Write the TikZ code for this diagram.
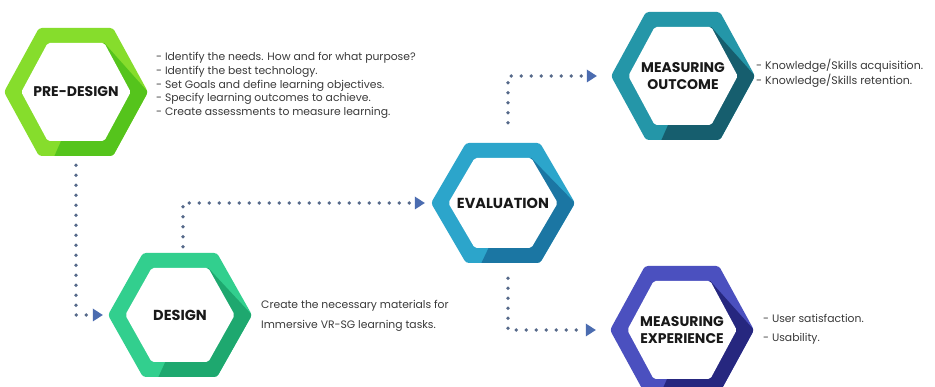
\documentclass[tikz,border=0pt]{standalone}
\usepackage{fontspec}
\setmainfont{Poppins}
\usetikzlibrary{arrows.meta,calc}
\definecolor{preL}{HTML}{86DD2C}
\definecolor{preD}{HTML}{55C41C}
\definecolor{desL}{HTML}{32CF8E}
\definecolor{desD}{HTML}{1EA86F}
\definecolor{evaL}{HTML}{2CA5CB}
\definecolor{evaD}{HTML}{1B76A3}
\definecolor{outL}{HTML}{2496A8}
\definecolor{outD}{HTML}{165E6E}
\definecolor{expL}{HTML}{4B50BF}
\definecolor{expD}{HTML}{26277F}
\definecolor{dotc}{HTML}{56698A}
\definecolor{arrc}{HTML}{4B6CB0}
\definecolor{txtc}{HTML}{3A3A3A}
\newcommand\hexring[5]{%
 \pgfmathsetmacro\hxw{72}%
 \pgfmathsetmacro\hxa{37}%
 \pgfmathsetmacro\hxh{#3}%
 \pgfmathsetmacro\hxwi{\hxw-17.3}%
 \pgfmathsetmacro\hxai{\hxa-8.7}%
 \pgfmathsetmacro\hxhi{\hxh-15}%
 \begin{scope}
  \clip[rounded corners=3pt] (#1+\hxw,#2) -- (#1+\hxa,#2+\hxh) -- (#1-\hxa,#2+\hxh) -- (#1-\hxw,#2) -- (#1-\hxa,#2-\hxh) -- (#1+\hxa,#2-\hxh) -- cycle;
  \fill[#4] (#1-100,#2-100) rectangle (#1+100,#2+100);
  \fill[#5] (#1+\hxai,#2-\hxhi) -- ($(#1+\hxai,#2-\hxhi)!1.5!(#1+\hxw,#2)$) -- (#1+\hxw+25,#2+\hxh+25) -- ($(#1+\hxai,#2-\hxhi)!1.2!(#1-0.3*\hxw,#2+\hxh)$) -- cycle;
 \end{scope}
 \fill[white,rounded corners=2pt] (#1+\hxwi,#2) -- (#1+\hxai,#2+\hxhi) -- (#1-\hxai,#2+\hxhi) -- (#1-\hxwi,#2) -- (#1-\hxai,#2-\hxhi) -- (#1+\hxai,#2-\hxhi) -- cycle;
}
\begin{document}
\begin{tikzpicture}[x=1pt,y=-1pt,
  lbl/.style={font=\bfseries\fontsize{14.5}{17}\selectfont,text=black!90,align=center,inner sep=0pt,minimum width=144pt},
  desc/.style={font=\fontsize{10.8}{13.8}\selectfont,text=txtc,align=left,inner sep=0pt,anchor=west},
  conn/.style={draw=dotc,line width=3.8pt,line cap=round,dash pattern=on 0pt off 10pt,
    -{Triangle[length=10pt,width=13pt,line width=0pt,color=arrc,fill=arrc]}}]
\useasboundingbox (0,0) rectangle (935,387);
\clip (0,0) rectangle (935,387);
\fill[white] (0,0) rectangle (935,387);
% hexagons
\hexring{76}{92}{64}{preL}{preD}
\hexring{180}{315}{62}{desL}{desD}
\hexring{503}{203}{60}{evaL}{evaD}
\hexring{683}{76}{64}{outL}{outD}
\hexring{682}{330}{64}{expL}{expD}
% labels
\node[lbl,minimum height=128pt,font=\bfseries\fontsize{14}{17}\selectfont] (pre) at (76,92) {PRE-DESIGN};
\node[lbl,minimum height=124pt] (design) at (180,315) {DESIGN};
\node[lbl,minimum height=120pt] (eval) at (503,203) {EVALUATION};
\node[lbl,minimum height=128pt,font=\bfseries\fontsize{14}{17}\selectfont] (outcome) at (683,76) {MEASURING\\OUTCOME};
\node[lbl,minimum height=128pt,font=\bfseries\fontsize{14}{17}\selectfont] (exper) at (682,330) {MEASURING\\EXPERIENCE};
% descriptions
\node[desc] (predesc) at (156,85.5) {- Identify the needs. How and for what purpose?\\- Identify the best technology.\\- Set Goals and define learning objectives.\\- Specify learning outcomes to achieve.\\- Create assessments to measure learning.};
\node[desc,font=\fontsize{10.8}{19.5}\selectfont] (desdesc) at (261,316) {Create the necessary materials for\\Immersive VR-SG learning tasks.};
\node[desc,font=\fontsize{11}{15.5}\selectfont] (outdesc) at (756,73.5) {- Knowledge/Skills acquisition.\\- Knowledge/Skills retention.};
\node[desc,font=\fontsize{10.8}{19}\selectfont] (expdesc) at (763,329.5) {- User satisfaction.\\- Usability.};
% connectors
\draw[conn] ([yshift=-9pt]pre.south) |- ([xshift=-5pt]design.west);
\draw[conn] ([xshift=3pt,yshift=6pt]design.north) |- ([xshift=-6pt]eval.west);
\draw[conn] ([xshift=5pt,yshift=20pt]eval.north) |- ([xshift=-14pt]outcome.west);
\draw[conn] ([xshift=5pt,yshift=-15pt]eval.south) |- ([xshift=-14pt]exper.west);
\end{tikzpicture}
\end{document}
